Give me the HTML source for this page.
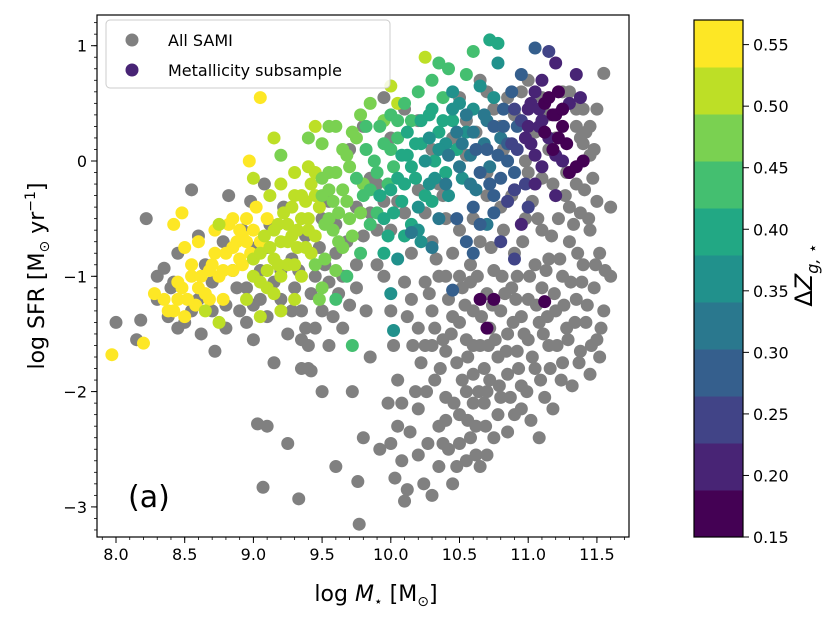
<!DOCTYPE html>
<html><head><meta charset="utf-8"><style>
body{margin:0;background:#fff;font-family:"Liberation Sans","DejaVu Sans",sans-serif;}
svg text{font-family:"DejaVu Sans","Liberation Sans",sans-serif;}
</style></head><body>
<svg id="chart" width="831" height="619" viewBox="0 0 831 619" xmlns="http://www.w3.org/2000/svg">
<g id="gray"></g>
<g id="col"></g>
<g id="axes"></g>
<g id="cbar"></g>
</svg>
<script>
const xTicks=[8.0,8.5,9.0,9.5,10.0,10.5,11.0,11.5];
const yTicks=[1,0,-1,-2,-3];
const cbTicks=[0.15,0.20,0.25,0.30,0.35,0.40,0.45,0.50,0.55];
const grayPts=[[8.0,-1.4],[8.15,-1.55],[8.18,-1.38],[8.22,-0.5],[8.3,-1.2],[8.35,-0.93],[8.38,-1.35],[8.42,-1.05],[8.45,-0.8],[8.5,-1.4],[8.55,-0.25],[8.6,-1.2],[8.65,-0.9],[8.7,-1.05],[8.72,-1.65],[8.78,-0.7],[8.8,-1.25],[8.85,-0.95],[8.9,-1.3],[8.92,-0.6],[8.95,-1.1],[8.98,-0.35],[9.0,-1.25],[9.02,-0.75],[9.05,-0.95],[9.08,-0.2],[9.1,-1.35],[9.12,-0.55],[9.15,-1.05],[9.2,-1.2],[9.22,-0.4],[9.25,-1.5],[9.28,-0.85],[9.3,-1.1],[9.35,-1.3],[9.38,-0.65],[9.4,-1.8],[9.42,-1.15],[9.45,-1.45],[9.48,-0.75],[9.5,-1.3],[9.55,-1.6],[8.82,-0.3],[8.4,-1.1],[8.6,-0.65],[9.0,-1.55],[9.15,-1.75],
[9.03,-2.28],[9.07,-2.83],[9.1,-2.3],[9.25,-2.45],[9.33,-2.93],[9.35,-1.8],[9.42,-1.82],[9.5,-2.0],[9.6,-2.65],[9.72,-2.0],[9.76,-2.78],[9.77,-3.15],[9.8,-2.4],[9.85,-1.7],[9.7,-1.25],[9.65,-1.0],[9.6,-0.55],[9.75,-0.9],
[9.8,0.3],[9.9,-0.2],[10.0,0.2],[10.1,-0.45],[10.2,0.35],[10.3,0.1],[10.4,-0.5],[10.5,0.55],[10.55,0.35],[10.62,0.25],[10.65,0.7],[10.7,0.6],[10.75,0.45],[10.8,0.3],[10.85,0.55],[10.9,0.4],[10.95,0.6],[11.0,0.7],[11.05,0.25],[11.1,0.55],[11.15,0.4],[11.2,0.2],[11.25,0.45],[11.3,0.6],[11.35,0.3],[11.4,0.15],[11.45,0.05],[11.5,0.45],[11.55,0.76],[11.42,0.25],[11.28,-0.1],[11.35,-0.2],[11.5,-0.35],[11.6,-0.4],[11.45,-0.6],[11.3,-0.4],[11.2,-0.3],[11.1,-0.15],[11.0,-0.1],[10.9,-0.25],[10.8,-0.4],[10.7,-0.3],[10.6,-0.5],[10.5,-0.6],
[9.9,-0.6],[9.95,-1.0],[10.0,-1.3],[10.02,-1.6],[10.05,-1.9],[10.05,-2.3],[10.08,-2.6],[10.1,-2.95],[10.12,-2.85],[10.15,-1.2],[10.15,-0.8],[10.2,-1.45],[10.2,-2.15],[10.22,-1.75],[10.25,-1.05],[10.27,-2.45],[10.3,-0.7],[10.3,-1.3],[10.32,-1.9],[10.35,-2.3],[10.35,-2.65],[10.38,-1.55],[10.4,-1.0],[10.4,-2.05],[10.42,-2.5],[10.45,-1.35],[10.45,-0.8],[10.48,-1.75],[10.5,-2.2],[10.5,-2.45],[10.52,-1.1],[10.55,-1.55],[10.55,-2.0],[10.58,-0.9],[10.6,-1.3],[10.6,-1.85],[10.62,-2.3],[10.65,-1.6],[10.65,-0.7],[10.68,-2.1],[10.7,-1.15],[10.72,-1.45],[10.72,-1.9],[10.75,-0.95],[10.75,-2.4],[10.78,-1.7],[10.8,-1.3],[10.8,-2.05],[10.82,-0.6],[10.85,-1.5],[10.85,-1.85],[10.88,-1.1],[10.9,-2.2],[10.9,-0.8],[10.92,-1.65],[10.95,-1.35],[10.95,-1.95],[10.98,-0.5],[11.0,-1.2],[11.0,-1.55],[11.02,-2.25],[11.05,-0.9],[11.05,-1.8],[11.08,-1.4],[11.1,-0.6],[11.1,-1.1],[11.12,-2.05],[11.15,-1.6],[11.15,-0.85],[11.18,-2.15],[11.2,-1.3],[11.22,-0.5],[11.25,-1.0],[11.25,-1.75],[11.28,-1.45],[11.3,-0.7],[11.32,-1.95],[11.35,-1.2],[11.38,-1.65],[11.4,-0.9],[11.42,-1.4],[11.45,-1.85],[11.48,-1.1],[11.5,-1.55],[11.52,-0.8],[11.55,-1.3],[11.6,-1.0],[10.1,-1.05],[10.25,-0.45],[10.38,-0.3],[10.65,-2.65],[10.45,-2.8],[10.55,-2.6],[10.3,-2.9],[10.2,-2.55],[10.4,-1.65],[10.7,-2.55],[10.6,-2.1],[10.5,-1.4],[10.85,-2.35],[10.95,-2.15],[11.08,-2.4],[10.78,-2.2],[10.52,-1.9],[10.42,-1.2],[10.58,-1.05],[10.68,-1.8],[10.92,-1.0],[11.03,-0.35],[11.18,-0.2],[10.35,-1.0],[10.25,-1.6],[10.18,-2.0],[9.98,-2.1],[9.92,-2.5],[10.88,-0.3],[11.38,-0.45],[11.4,0.45],[11.15,0.1],[10.98,0.0],[10.82,0.1],[10.7,-0.1],[10.55,0.05],[10.45,0.2],[10.35,-0.2],[10.2,-0.25],[10.1,0.45],[9.95,0.55],[9.85,-0.15],[9.7,0.1],[9.55,-0.35],[9.6,-0.8],[9.85,-0.45],[9.75,-0.4],
[10.32,-1.45],[10.36,-1.8],[10.44,-1.5],[10.46,-2.1],[10.5,-1.0],[10.54,-1.25],[10.56,-1.7],[10.6,-1.6],[10.63,-1.0],[10.64,-2.0],[10.66,-1.35],[10.69,-2.3],[10.71,-1.6],[10.73,-0.75],[10.74,-1.25],[10.76,-1.55],[10.79,-1.95],[10.81,-1.0],[10.83,-1.15],[10.84,-1.65],[10.87,-2.05],[10.89,-1.4],[10.91,-1.2],[10.93,-1.8],[10.96,-0.7],[10.97,-1.5],[10.99,-2.0],[11.01,-1.0],[11.03,-1.7],[11.06,-1.25],[11.07,-0.5],[11.09,-1.9],[11.11,-1.5],[11.13,-0.95],[11.14,-1.35],[11.16,-1.8],[11.17,-0.65],[11.19,-1.15],[11.21,-1.6],[11.23,-0.85],[11.24,-1.9],[11.26,-1.25],[11.27,-0.3],[11.29,-1.55],[11.31,-1.05],[11.33,-0.55],[11.34,-1.4],[11.36,-0.8],[11.37,-1.75],[11.39,-1.05],[11.41,-0.25],[11.43,-1.25],[11.44,-0.5],[11.46,-1.6],[11.47,-0.15],[11.49,-0.9],[11.52,-1.7],[11.53,-1.45],[11.56,-0.95],[11.48,0.1],[11.35,0.45],[11.25,0.6],[11.38,0.2],[11.45,0.3],[10.28,-1.15],[10.33,-0.85],[10.26,-2.0],[10.16,-1.6],[10.12,-1.35],[10.08,-2.1],[10.0,-2.45],[10.03,-2.75],[10.14,-2.35],[10.24,-2.8],[10.38,-2.45],[10.48,-2.65],[10.58,-2.4],[10.62,-2.55],[10.4,-2.25],[10.3,-1.6],[10.56,-2.25],[10.7,-2.0],
[8.3,-1.0],[8.45,-1.45],[8.55,-1.3],[8.62,-1.5],[8.7,-1.3],[8.8,-1.45],[8.88,-1.1],[8.95,-1.4],[9.05,-1.2],[9.1,-0.75],[9.2,-0.95],[9.28,-1.3],[9.33,-0.95],[9.38,-1.45],[9.45,-1.0],[9.5,-0.5],[9.52,-0.9],[9.58,-1.35],[9.62,-1.15],[9.68,-0.7],[9.75,-1.1],[9.8,-0.65],[9.82,-1.3],[9.9,-0.9],[9.95,-0.35],[10.0,-0.6],[10.05,-0.35],[9.65,-1.45],[9.55,-1.05],[9.4,-1.6],[9.35,-1.55]];
const colX=[7.97,8.2,8.28,8.38,8.42,8.48,8.5,8.45,8.52,8.55,8.6,8.62,8.65,8.7,8.72,8.75,8.78,8.8,8.82,8.85,8.88,8.9,8.92,8.95,8.98,9.0,9.02,9.05,9.05,9.1,8.97,8.48,8.35,
8.65,8.75,9.12,9.15,9.18,9.2,9.2,9.25,9.28,9.3,9.32,9.35,9.35,9.38,9.4,9.4,9.42,9.45,9.48,9.5,9.52,9.1,9.15,9.3,9.05,9.0,
9.2,9.4,9.45,9.5,9.55,9.58,9.6,9.62,9.65,9.68,9.7,9.72,9.75,9.78,9.8,9.82,9.85,9.6,9.92,10.05,10.0,10.25,9.95,9.48,
9.85,9.88,9.9,9.95,9.98,10.0,10.02,10.05,10.08,10.1,10.12,10.15,10.18,10.2,10.22,10.25,10.28,10.3,10.32,10.35,10.38,10.4,10.42,10.45,10.48,10.35,9.72,9.98,10.15,10.3,10.55,10.6,10.72,10.78,
10.02,10.0,10.05,10.2,10.28,10.42,10.5,10.52,10.55,10.58,10.6,10.62,10.65,10.68,10.7,10.72,10.75,10.78,10.8,10.45,10.4,
10.48,10.55,10.6,10.7,10.75,10.82,10.85,10.88,10.9,10.92,10.95,10.98,11.05,10.45,10.15,10.3,10.85,
11.0,11.02,11.05,11.08,11.1,11.12,11.15,11.18,11.2,11.22,11.25,11.28,11.3,11.35,11.38,11.1,11.15,11.2,11.25,11.3,11.4,10.9,11.0,10.95,10.65,10.75,10.7,11.12,10.9];
const colY=[-1.68,-1.58,-1.15,-1.3,-1.3,-1.1,-0.75,-1.05,-1.2,-0.9,-0.7,-1.0,-1.15,-0.9,-0.6,-1.0,-1.2,-0.8,-0.55,-0.95,-0.7,-0.85,-0.65,-0.5,-0.8,-0.6,-0.4,-0.7,0.55,-0.5,0.0,-0.45,-1.2,
-1.3,-1.4,-0.3,-0.85,-0.55,-0.2,-1.0,-0.7,-0.4,-0.9,-0.6,-0.3,-1.0,-0.75,-0.5,-0.05,-0.2,-0.65,-0.4,-0.15,-0.55,-0.95,0.2,-1.2,-1.05,-1.0,
0.05,0.2,-0.9,0.15,-0.1,-0.35,0.3,-0.7,-0.25,0.05,-0.5,0.25,-0.15,0.4,-0.3,0.1,0.5,-0.95,0.3,0.5,0.65,0.9,0.35,-1.2,
-0.25,0.0,-0.45,0.15,-0.2,0.4,-0.05,0.2,-0.35,0.5,0.05,0.35,-0.15,0.6,0.15,-0.3,0.4,0.7,0.0,0.25,0.55,-0.1,0.8,0.35,0.1,0.85,-1.6,-0.65,-0.55,-0.35,0.75,0.95,1.05,1.02,
-1.47,-1.15,-0.85,-0.6,-0.2,-0.3,0.5,-0.15,0.25,0.05,0.45,-0.25,0.65,0.15,0.35,-0.05,0.55,0.85,0.2,0.6,0.15,
-0.5,-0.7,-0.4,-0.55,-0.3,0.45,0.0,0.6,-0.1,0.3,0.75,-0.2,0.98,-1.12,-0.62,-0.75,0.15,
0.45,0.15,0.6,0.3,-0.05,0.5,0.2,0.4,0.05,0.6,0.3,0.15,0.5,0.75,0.55,0.7,0.95,0.85,0.0,-0.1,0.0,-0.25,-0.4,-0.55,-1.2,-1.2,-1.45,-1.22,-0.85];
const colZ=[.56,.56,.56,.56,.56,.56,.56,.56,.55,.56,.56,.55,.56,.55,.56,.56,.55,.56,.56,.55,.56,.55,.56,.55,.56,.55,.55,.54,.56,.55,.56,.56,.56,
.5,.5,.52,.52,.51,.52,.5,.51,.51,.5,.51,.5,.5,.5,.5,.5,.5,.5,.5,.49,.49,.52,.5,.5,.52,.53,
.47,.47,.47,.47,.47,.47,.47,.46,.46,.46,.46,.46,.45,.46,.45,.45,.47,.47,.45,.5,.52,.5,.47,.47,
.43,.43,.42,.43,.42,.44,.42,.42,.41,.44,.41,.42,.4,.44,.4,.39,.41,.44,.39,.4,.42,.38,.43,.4,.38,.44,.42,.4,.4,.38,.42,.42,.4,.4,
.35,.36,.35,.36,.36,.35,.36,.35,.35,.34,.35,.34,.37,.33,.34,.33,.35,.37,.32,.37,.37,
.3,.29,.3,.31,.3,.3,.28,.3,.27,.28,.29,.26,.27,.27,.33,.32,.29,
.2,.22,.2,.21,.2,.18,.19,.18,.19,.17,.16,.17,.19,.2,.22,.2,.23,.22,.2,.18,.17,.24,.23,.21,.18,.17,.17,.17,.25];
const colPtsExtra=[[8.55,-1.0,.56],[8.6,-1.1,.56],[8.68,-0.95,.56],[8.72,-0.8,.56],[8.78,-0.95,.56],[8.85,-0.75,.56],[8.9,-0.6,.56],[8.95,-0.7,.56],[8.58,-1.25,.56],[8.68,-1.2,.56],[8.5,-1.35,.56],[8.45,-1.2,.56],[8.92,-0.9,.56],[8.42,-0.55,.56],
[9.0,-0.85,.52],[9.05,-0.8,.52],[9.08,-0.65,.52],[9.1,-1.1,.52],[9.12,-0.75,.52],[9.15,-0.6,.52],[9.18,-0.9,.52],[9.2,-0.7,.52],[9.22,-0.45,.52],[9.25,-0.55,.52],[9.25,-0.9,.52],[9.28,-0.65,.52],[9.3,-0.3,.52],[9.32,-0.75,.52],[9.35,-0.5,.52],[9.38,-0.35,.52],[9.4,-0.6,.52],[9.42,-0.8,.52],[9.45,-0.3,.52],[9.15,-1.15,.52],[9.2,-1.3,.5],[8.95,-1.2,.52],[9.05,-1.35,.5],[9.3,-0.1,.5],[9.45,-0.1,.5],[9.0,-0.15,.52],[8.75,-0.55,.52],[8.85,-0.5,.56],
[9.5,-0.3,.47],[9.55,-0.5,.47],[9.55,-0.25,.47],[9.58,-0.6,.47],[9.6,-0.1,.47],[9.62,-0.45,.47],[9.65,-0.75,.47],[9.65,0.1,.47],[9.68,-0.35,.47],[9.7,-0.05,.47],[9.72,-0.65,.47],[9.75,0.2,.47],[9.78,-0.45,.47],[9.8,-0.2,.47],[9.52,-0.85,.47],[9.6,-1.2,.44],[9.68,-1.0,.44],[9.5,-1.1,.47],[9.78,-0.8,.44],[9.82,0.3,.44],[9.55,0.3,.47],[9.45,0.3,.5],
[9.85,-0.55,.42],[9.9,-0.1,.42],[9.92,-0.3,.4],[9.95,-0.5,.4],[10.0,-0.25,.4],[10.0,0.1,.42],[10.02,-0.45,.4],[10.05,-0.15,.4],[10.08,0.05,.4],[10.1,-0.2,.38],[10.12,0.25,.4],[10.15,-0.05,.38],[10.18,0.15,.38],[10.2,-0.4,.36],[10.22,0.35,.4],[10.25,0.0,.36],[10.28,0.2,.36],[10.3,0.45,.4],[10.32,-0.15,.36],[10.35,0.1,.36],[10.38,0.35,.38],[10.4,-0.2,.34],[10.42,0.05,.34],[10.45,0.45,.36],[10.48,0.25,.34],[10.5,-0.05,.33],[10.1,-0.65,.38],[10.22,-0.7,.36],[10.35,-0.5,.34],[10.05,0.35,.42],[9.95,-0.8,.4],
[10.52,0.15,.32],[10.55,0.4,.33],[10.58,-0.2,.31],[10.6,0.25,.31],[10.62,0.1,.3],[10.65,-0.1,.3],[10.68,0.4,.31],[10.7,0.1,.29],[10.72,-0.2,.28],[10.75,0.3,.29],[10.78,0.05,.28],[10.8,-0.15,.27],[10.82,0.3,.27],[10.85,-0.35,.26],[10.88,0.15,.25],[10.9,0.45,.26],[10.92,0.1,.24],[10.95,0.35,.24],[10.65,-0.55,.28],[10.75,-0.45,.27],[10.6,-0.8,.3],[10.8,-0.7,.26],
[10.98,0.2,.22],[11.0,0.3,.22],[11.02,0.5,.21],[11.05,0.05,.22],[11.08,0.45,.2],[11.12,0.25,.18],[11.15,0.55,.18],[11.18,0.1,.17],[11.2,0.4,.17],[11.22,0.2,.17],[11.25,0.45,.16],[11.1,0.35,.19],[11.05,-0.2,.21],[11.2,-0.3,.2],[11.35,-0.05,.18]];

const NS='http://www.w3.org/2000/svg';
const L=97,R=629,T=15,B=537;
const sx=v=>116+(v-8)*137.4;
const sy=v=>161-v*115.3;
const ZMIN=0.15,ZMAX=0.57,NB=11,ZSTEP=(ZMAX-ZMIN)/NB,CT=20,CB=537;
const sz=v=>CB-(v-ZMIN)/(ZMAX-ZMIN)*(CB-CT);
const bandCols=['#440154','#482475','#414487','#355f8d','#2a788e','#21918c','#22a884','#44bf70','#7ad151','#bddf26','#fde725'];
function bandColor(z){let i=Math.floor((z-ZMIN)/ZSTEP);i=Math.max(0,Math.min(NB-1,i));return bandCols[i];}
function mk(tag,attrs,parent){const e=document.createElementNS(NS,tag);for(const k in attrs)e.setAttribute(k,attrs[k]);parent.appendChild(e);return e;}

const gG=document.getElementById('gray');
grayPts.forEach(p=>{const c=mk('circle',{cx:sx(p[0]),cy:sy(p[1]),r:6.5,fill:'#808080'},gG);

});
const cG=document.getElementById('col');
const allCol=colX.map((x,i)=>[x,colY[i],colZ[i]]).concat(colPtsExtra);
allCol.sort((a,b)=>b[2]-a[2]);
allCol.forEach(p=>{const c=mk('circle',{cx:sx(p[0]),cy:sy(p[1]),r:6.5,fill:bandColor(p[2])},cG);

});

const A=document.getElementById('axes');
let f=mk('rect',{x:L,y:T,width:R-L,height:B-T,fill:'none',stroke:'#000','stroke-width':1.2},A);


for(let v=7.9;v<=11.71;v+=0.1){const X=sx(v);if(X<L||X>R)continue;mk('line',{x1:X,x2:X,y1:B,y2:B+3,stroke:'#000','stroke-width':0.8},A);}
for(let v=-3.3;v<=1.31;v+=0.1){const Y=sy(v);if(Y<T||Y>B)continue;mk('line',{x1:L,x2:L-3,y1:Y,y2:Y,stroke:'#000','stroke-width':0.8},A);}
xTicks.forEach(v=>{const X=sx(v);mk('line',{x1:X,x2:X,y1:B,y2:B+6,stroke:'#000'},A);
const t=mk('text',{x:X,y:B+23,'font-size':16,'text-anchor':'middle'},A);t.textContent=v.toFixed(1);

});
yTicks.forEach(v=>{const Y=sy(v);mk('line',{x1:L,x2:L-6,y1:Y,y2:Y,stroke:'#000'},A);
const t=mk('text',{x:L-10,y:Y+6,'font-size':16,'text-anchor':'end'},A);t.textContent=v<0?'\u2212'+(-v):String(v);

});
let xt=mk('text',{x:376,y:601,'font-size':22,'text-anchor':'middle'},A);
xt.innerHTML='log <tspan font-style="italic">M</tspan><tspan font-size="14" dy="5">\u22c6</tspan><tspan dy="-5"> [M</tspan><tspan font-size="14" dy="5">\u2299</tspan><tspan dy="-5">]</tspan>';


let yt=mk('text',{x:0,y:0,'font-size':22,'text-anchor':'middle',transform:'translate(44,276) rotate(-90)'},A);
yt.innerHTML='log SFR [M<tspan font-size="14" dy="5">\u2299</tspan><tspan dy="-5"> yr</tspan><tspan font-size="14" dy="-9">\u22121</tspan><tspan dy="9">]</tspan>';


let pa=mk('text',{x:128,y:507,'font-size':30},A);pa.textContent='(a)';


const lg=mk('g',{},A);


mk('rect',{x:106,y:20,width:284,height:68,rx:4,fill:'#fff','fill-opacity':0.85,stroke:'#ccc'},lg);
mk('circle',{cx:132,cy:40,r:6.5,fill:'#808080'},lg);
mk('circle',{cx:132,cy:70,r:6.5,fill:'#482475'},lg);
let l1=mk('text',{x:168,y:46,'font-size':16},lg);l1.textContent='All SAMI';


let l2=mk('text',{x:168,y:76,'font-size':16},lg);l2.textContent='Metallicity subsample';


const C=document.getElementById('cbar');const CX=694,CW=49;
for(let i=0;i<NB;i++){const z0=ZMIN+i*ZSTEP,z1=z0+ZSTEP;const r=mk('rect',{x:CX,y:sz(z1),width:CW,height:sz(z0)-sz(z1)+0.5,fill:bandCols[i]},C);

}
mk('rect',{x:CX,y:CT,width:CW,height:CB-CT,fill:'none',stroke:'#000','stroke-width':1.2},C);
cbTicks.forEach(v=>{const Y=sz(v);mk('line',{x1:CX+CW,x2:CX+CW+6,y1:Y,y2:Y,stroke:'#000'},C);
const t=mk('text',{x:CX+CW+10,y:Y+6,'font-size':16},C);t.textContent=v.toFixed(2);

});
let ct=mk('text',{x:0,y:0,'font-size':24,'text-anchor':'middle',transform:'translate(812,275) rotate(-90)'},C);
ct.innerHTML='\u0394<tspan font-style="italic">Z</tspan><tspan font-size="16" dy="6" font-style="italic">g, \u22c6</tspan>';


</script>
</body></html>
